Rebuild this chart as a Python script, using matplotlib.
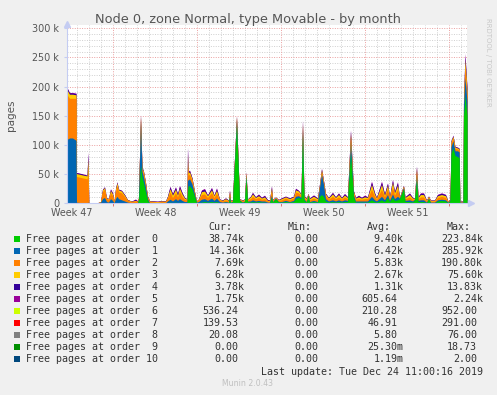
import matplotlib
matplotlib.use("Agg")
import matplotlib.pyplot as plt
from matplotlib.patches import Rectangle

W, H = 497, 395

title = "Node 0, zone Normal, type Movable - by month"
week_labels = ["Week 47", "Week 48", "Week 49", "Week 50", "Week 51"]
week_pos = [4, 88, 172, 256, 340]
ytick_vals = [0, 50, 100, 150, 200, 250, 300]

# time slots (one slot ~ 2 hours), values in thousands of pages
slot = [0, 2, 5, 8.5, 9, 14, 19.5, 20.5, 21.3, 30,
        33, 35, 37, 39, 41, 43, 45, 46.5, 48, 49.5,
        51, 54, 57, 60, 64, 68, 70, 71, 73, 74.5,
        76, 78, 80, 82, 86, 90, 94, 98, 100, 102.5,
        105, 108, 110, 112, 114.5, 117, 119.5, 120, 120.7, 122,
        124.5, 127, 129, 131, 134, 137, 140, 144, 146.5, 149,
        152, 155, 158, 161, 162, 163, 165, 169, 172, 175,
        177, 178.5, 180, 183, 185, 188, 191, 194, 197, 200,
        202, 204, 205, 208, 211, 214, 218, 222, 226, 228,
        231, 233.5, 235, 236.5, 239, 240.5, 242, 246, 250, 252,
        254, 256, 258, 261, 265, 268, 271, 274, 277, 280,
        283, 286, 288, 291, 294, 297, 300, 304, 307, 309,
        314, 317, 320, 322, 325, 327, 330, 332, 336, 337.5,
        342, 345, 347, 349, 350.5, 353, 356, 359, 361, 363,
        367, 370, 374, 378, 380.5, 382.5, 383.5, 385.5, 387.5, 390,
        391.7, 392.3, 395.5, 396, 397.5, 399.5]

order0 = [0, 0, 0, 0, 0, 0, 0, 0, 0, 0,
          0, 0, 0, 0, 0, 0, 0, 0, 0, 0,
          0, 0, 0, 0, 0, 0, 0, 5, 65, 45,
          35, 20, 5, 0, 0, 0, 0, 0, 1, 2,
          1, 2, 1, 2, 1, 1, 1, 20, 30, 30,
          25, 12, 1, 1, 2, 3, 2, 3, 2, 3,
          1, 1, 2, 1, 10, 1, 3, 134, 5, 1,
          3, 45, 3, 2, 3, 2, 3, 2, 2, 1,
          1, 10, 2, 8, 2, 2, 3, 2, 3, 8,
          10, 8, 118, 5, 2, 14, 2, 3, 2, 12,
          15, 12, 4, 2, 3, 2, 3, 2, 3, 3,
          86, 10, 2, 2, 2, 2, 2, 6, 3, 2,
          6, 3, 10, 3, 10, 5, 6, 8, 25, 3,
          3, 2, 6, 40, 3, 3, 3, 1, 8, 1,
          1, 4, 5, 4, 1, 5, 85, 95, 82, 80,
          78, 1, 1, 150, 185, 150]

order1 = [110, 112, 112, 108, 2, 1, 1, 2, 0, 1,
          2, 8, 10, 3, 2, 8, 5, 1, 8, 12,
          8, 6, 4, 2, 1, 1, 1, 2, 75, 10,
          10, 8, 3, 1, 1, 0.5, 1, 1, 3, 5,
          3, 6, 4, 6, 4, 2, 2, 20, 10, 12,
          8, 4, 1, 2, 5, 5, 3, 6, 3, 6,
          2, 1, 1, 1, 3, 1, 1, 9, 1, 1,
          1, 3, 1, 2, 3, 2, 2, 2, 2, 1,
          1, 4, 1, 1, 1, 1, 2, 1, 2, 4,
          3, 2, 10, 2, 1, 1, 1, 2, 1, 15,
          35, 20, 4, 2, 3, 2, 3, 2, 3, 2,
          20, 4, 2, 2, 2, 2, 2, 6, 3, 2,
          6, 3, 5, 2, 6, 3, 6, 1, 2, 2,
          3, 2, 1, 8, 2, 3, 3, 1, 1, 1,
          1, 2, 2, 2, 1, 1, 12, 12, 8, 10,
          10, 1, 1, 20, 30, 25]

order2 = [75, 68, 68, 72, 44, 43, 41, 50, 0, 0,
          1, 12, 14, 5, 5, 10, 8, 2, 12, 18,
          12, 12, 8, 3, 2, 3, 2, 2, 7, 4,
          6, 5, 3, 2, 1.5, 1.5, 2, 1.5, 5, 12,
          6, 10, 6, 12, 7, 4, 3, 25, 8, 8,
          6, 3, 1, 3, 8, 8, 5, 9, 5, 8,
          3, 2, 3, 2, 5, 2, 1, 4, 1, 2,
          2, 3, 2, 4, 6, 4, 5, 3, 4, 2,
          2, 8, 2, 1, 2, 3, 4, 3, 4, 7,
          5, 3, 6, 3, 3, 1, 3, 4, 3, 3,
          5, 4, 5, 3, 6, 4, 5, 3, 5, 3,
          10, 4, 3, 4, 3, 4, 4, 12, 6, 3,
          12, 5, 10, 4, 12, 6, 12, 1, 2, 3,
          5, 3, 1, 8, 3, 5, 5, 2, 2, 2,
          2, 4, 5, 4, 1, 1, 6, 5, 4, 3,
          3, 1, 1, 5, 20, 10]

order3 = [8, 7, 7, 6, 5, 5, 5, 25, 0, 0,
          0, 3, 3, 1, 1, 4, 3, 0.5, 4, 5,
          3, 3, 2, 1, 0.5, 1, 0.5, 0.5, 3, 2,
          3, 2, 1, 1, 1, 1, 1, 1, 2, 6,
          4, 6, 3, 6, 4, 2, 1, 20, 4, 4,
          3, 1, 0.5, 1, 5, 5, 3, 5, 3, 5,
          1, 1, 2, 1, 3, 1, 0.5, 2, 0.5, 1,
          1, 2, 1, 3, 4, 2, 3, 2, 3, 1,
          1, 5, 1, 0.5, 1, 2, 2, 2, 2, 4,
          3, 2, 4, 2, 2, 0.5, 2, 3, 2, 2,
          3, 2, 3, 2, 4, 2, 4, 2, 3, 2,
          5, 2, 2, 3, 2, 3, 2, 8, 4, 2,
          8, 3, 6, 2, 8, 4, 7, 0.5, 1, 2,
          4, 2, 0.5, 5, 2, 4, 4, 1, 1, 1,
          1, 3, 3, 3, 0.5, 0.5, 3, 3, 2, 2,
          2, 0.5, 0.5, 3, 12, 8]

order4 = [3, 2, 2, 2, 1.5, 1.5, 1, 8, 0, 0,
          0, 1, 1, 0.5, 0.5, 2, 1.5, 0.3, 1, 1.5,
          1, 1, 1, 0.5, 0.3, 1.5, 0.3, 0.3, 1, 1,
          1, 1, 0.5, 0.5, 0.5, 0.5, 0.5, 0.5, 1, 3,
          2, 3, 2, 3, 2, 1, 0.5, 8, 2, 2,
          1.5, 0.5, 0.3, 0.5, 2, 3, 1, 3, 1, 3,
          0.5, 0.5, 1, 0.5, 1, 0.5, 0.3, 0.5, 0.3, 0.5,
          0.5, 0.5, 0.5, 1, 2, 1, 2, 1, 2, 1,
          0.5, 2, 0.5, 0.3, 0.5, 1, 1, 1, 1, 2,
          1, 1, 3, 1, 1, 0.3, 1, 1.5, 1, 1,
          1, 1, 1, 1, 2, 1, 2, 1, 2, 1,
          3, 1, 1, 2, 1, 2, 1, 4, 2, 1,
          4, 2, 3, 1, 3, 2, 4, 0.3, 0.5, 1,
          2, 1, 0.3, 2, 1, 2, 2, 0.5, 0.5, 0.5,
          0.5, 1.5, 2, 1.5, 0.3, 0.3, 1, 1, 1, 1,
          1, 0.3, 0.3, 1, 6, 4]

order5 = [1, 1, 1, 1, 0.5, 0.5, 0.5, 3, 0, 0,
          0, 0.5, 0.5, 0, 0, 1, 1, 0, 0.5, 0.5,
          0.5, 0.5, 0.5, 0, 0, 1, 0, 0, 1, 0.5,
          0.5, 0.5, 0.3, 0.2, 0.3, 0.2, 0.3, 0.2, 0.5, 1.5,
          1, 1.5, 1, 1.5, 1, 0.5, 0.3, 4, 1, 1,
          0.5, 0.3, 0, 0.3, 1, 1.5, 0.5, 1.5, 0.5, 1.5,
          0.3, 0.3, 0.5, 0.2, 1, 0.2, 0.2, 0.5, 0.2, 0.3,
          0.3, 0.5, 0.3, 0.5, 1, 0.5, 1, 0.5, 1, 0.5,
          0.3, 1, 0.3, 0.2, 0.3, 0.5, 0.5, 0.5, 0.5, 1,
          0.5, 0.5, 2, 0.5, 0.5, 0.2, 0.5, 1, 0.5, 0.5,
          1, 0.5, 0.5, 0.5, 1, 0.5, 1, 0.5, 1, 0.5,
          2, 0.5, 0.5, 1, 0.5, 1, 0.5, 2, 1, 0.5,
          2, 1, 1, 0.5, 2, 1, 2, 0.2, 0.5, 0.5,
          1, 0.5, 0.2, 1, 0.5, 1, 1, 0.3, 0.2, 0.3,
          0.3, 1, 1, 1, 0.2, 0.2, 1, 1, 0.5, 0.5,
          0.5, 0.2, 0.2, 1, 4, 2]

colors = ["#00CC00", "#0066B3", "#FF8000", "#FFCC00", "#330099", "#990099",
          "#CCFF00", "#FF0000", "#808080", "#008F00", "#00487D"]

cur = ["38.74k", "14.36k", "7.69k", "6.28k", "3.78k", "1.75k",
       "536.24", "139.53", "20.08", "0.00", "0.00"]
mins = ["0.00"] * 11
avg = ["9.40k", "6.42k", "5.83k", "2.67k", "1.31k", "605.64",
       "210.28", "46.91", "5.80", "25.30m", "1.19m"]
mx = ["223.84k", "285.92k", "190.80k", "75.60k", "13.83k", "2.24k",
      "952.00", "291.00", "76.00", "18.73", "2.00"]

BG = "#F0F0F0"
TXT = "#555555"


def fx(x):
    return x / W


def fy(y):
    return 1 - y / H


fig = plt.figure(figsize=(W / 100, H / 100), dpi=100, facecolor=BG)
ax = fig.add_axes([fx(67), fy(203.3), 400 / W, 177.8 / H])
ax.set_facecolor("white")
ax.set_xlim(-0.5, 399.5)
ax.set_ylim(0, 304.8)

# grid (under the data)
for v in range(10, 301, 10):
    if v % 50:
        ax.axhline(v, color="#CFCFCF", lw=0.7, ls=(0, (1, 1.5)), zorder=0)
    else:
        ax.axhline(v, color="#EBA0A0", lw=0.7, ls=(0, (1, 1.5)), zorder=0.5)
major_x = [45, 129, 213, 297, 381]
for v in range(9, 399, 12):
    if v in major_x:
        ax.axvline(v, color="#EBA0A0", lw=0.7, ls=(0, (1, 1.5)), zorder=0.5)
    else:
        ax.axvline(v, color="#CFCFCF", lw=0.7, ls=(0, (1, 1.5)), zorder=0)

# stacked areas
series = [order0, order1, order2, order3, order4, order5]
tops = []
run = [0] * len(slot)
for s in series:
    run = [a + b for a, b in zip(run, s)]
    tops.append(run)
# paint the highest cumulative first so lower layers cover it (no seams)
for k in range(len(series) - 1, -1, -1):
    ax.fill_between(slot, 0, tops[k], color=colors[k], lw=0, zorder=2)

for s in ["top", "right"]:
    ax.spines[s].set_visible(False)
for s in ["left", "bottom"]:
    ax.spines[s].set_color("#C4CCF2")
    ax.spines[s].set_linewidth(0.8)
    ax.spines[s].set_zorder(3)

# axis arrows
ax.plot([-0.5], [308], marker="^", ms=4.5, color="#C4CCF2", clip_on=False, zorder=3)
ax.plot([403], [0], marker=">", ms=4.5, color="#C4CCF2", clip_on=False, zorder=3)
ax.vlines(major_x, -5, 0, color="#E07070", lw=0.7, clip_on=False, zorder=3)

ax.set_xticks(week_pos)
ax.set_xticklabels(week_labels)
ax.set_yticks(ytick_vals)
ax.set_yticklabels([f"{v} k" if v else "0" for v in ytick_vals])
ax.tick_params(axis="x", length=0, pad=3.5, labelsize=6.9, labelcolor=TXT)
ax.tick_params(axis="y", length=2, color="#C4CCF2", pad=3.5, labelsize=6.9,
               labelcolor=TXT)

fig.text(fx(248), fy(19), title, ha="center", va="center", fontsize=9.3, color=TXT)
fig.text(fx(11), fy(115), "pages", rotation=90, ha="center", va="center",
         fontsize=7.5, color=TXT)
fig.text(fx(488), fy(62), "RRDTOOL / TOBI OETIKER", rotation=270, ha="center",
         va="center", fontsize=5, color="#C8C8C8")

# legend
mono = "DejaVu Sans Mono"
LEG = "#333333"
fs = 7.2
hy = 227
for lab, xl in [("Cur:", 208), ("Min:", 288), ("Avg:", 367), ("Max:", 447)]:
    fig.text(fx(xl), fy(hy), lab, family=mono, fontsize=fs, color=LEG,
             ha="left", va="center")


def put(val, xr, y):
    if not val[-1].isalpha():
        xr -= 6
    fig.text(fx(xr), fy(y), val, family=mono, fontsize=fs, color=LEG,
             ha="right", va="center")


for i in range(11):
    y = 239.3 + 12 * i
    fig.patches.append(Rectangle((fx(14), fy(y + 3)), 6 / W, 6 / H,
                                 transform=fig.transFigure, facecolor=colors[i],
                                 edgecolor="none"))
    fig.text(fx(26.5), fy(y), f"Free pages at order {i:2d}", family=mono,
             fontsize=fs, color=LEG, ha="left", va="center")
    put(cur[i], 244.5, y)
    put(mins[i], 324, y)
    put(avg[i], 403.5, y)
    put(mx[i], 483, y)

fig.text(fx(483), fy(371.7), "Last update: Tue Dec 24 11:00:16 2019", family=mono,
         fontsize=fs, color=LEG, ha="right", va="center")
fig.text(fx(248), fy(384), "Munin 2.0.43", fontsize=5.6, color="#C0C0C0",
         ha="center", va="center")

fig.savefig("out.png", dpi=100, facecolor=BG)
